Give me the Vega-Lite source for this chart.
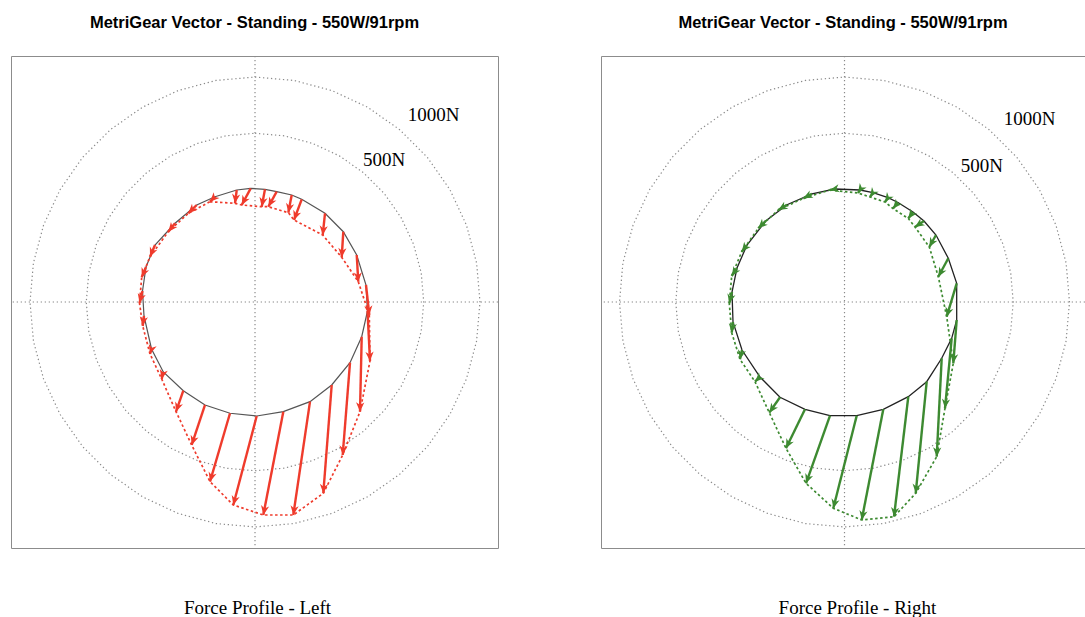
{
  "$schema": "https://vega.github.io/schema/vega-lite/v6.json",
  "padding": {"left": 9, "top": 14, "right": 0, "bottom": 0},
  "spacing": 99,
  "config": {
    "view": {"stroke": "#8c8c8c", "strokeWidth": 1},
    "title": {"font": "Liberation Sans", "fontSize": 16.5, "fontWeight": "bold", "color": "#000000", "offset": 24, "anchor": "middle"},
    "axisX": {"domain": false, "ticks": false, "labels": false, "grid": false, "titleFont": "Liberation Serif", "titleFontSize": 19, "titleFontWeight": "normal", "titleColor": "#000000", "titlePadding": 50}
  },
  "datasets": {
    "rings": [
      {"r": 1500, "i": 0, "x": 0, "y": 1500}, {"r": 1500, "i": 1, "x": 260.5, "y": 1477.2}, {"r": 1500, "i": 2, "x": 513, "y": 1409.5}, {"r": 1500, "i": 3, "x": 750, "y": 1299},
      {"r": 1500, "i": 4, "x": 964.2, "y": 1149.1}, {"r": 1500, "i": 5, "x": 1149.1, "y": 964.2}, {"r": 1500, "i": 6, "x": 1299, "y": 750}, {"r": 1500, "i": 7, "x": 1409.5, "y": 513},
      {"r": 1500, "i": 8, "x": 1477.2, "y": 260.5}, {"r": 1500, "i": 9, "x": 1500, "y": 0}, {"r": 1500, "i": 10, "x": 1477.2, "y": -260.5}, {"r": 1500, "i": 11, "x": 1409.5, "y": -513},
      {"r": 1500, "i": 12, "x": 1299, "y": -750}, {"r": 1500, "i": 13, "x": 1149.1, "y": -964.2}, {"r": 1500, "i": 14, "x": 964.2, "y": -1149.1}, {"r": 1500, "i": 15, "x": 750, "y": -1299},
      {"r": 1500, "i": 16, "x": 513, "y": -1409.5}, {"r": 1500, "i": 17, "x": 260.5, "y": -1477.2}, {"r": 1500, "i": 18, "x": 0, "y": -1500}, {"r": 1500, "i": 19, "x": -260.5, "y": -1477.2},
      {"r": 1500, "i": 20, "x": -513, "y": -1409.5}, {"r": 1500, "i": 21, "x": -750, "y": -1299}, {"r": 1500, "i": 22, "x": -964.2, "y": -1149.1}, {"r": 1500, "i": 23, "x": -1149.1, "y": -964.2},
      {"r": 1500, "i": 24, "x": -1299, "y": -750}, {"r": 1500, "i": 25, "x": -1409.5, "y": -513}, {"r": 1500, "i": 26, "x": -1477.2, "y": -260.5}, {"r": 1500, "i": 27, "x": -1500, "y": 0},
      {"r": 1500, "i": 28, "x": -1477.2, "y": 260.5}, {"r": 1500, "i": 29, "x": -1409.5, "y": 513}, {"r": 1500, "i": 30, "x": -1299, "y": 750}, {"r": 1500, "i": 31, "x": -1149.1, "y": 964.2},
      {"r": 1500, "i": 32, "x": -964.2, "y": 1149.1}, {"r": 1500, "i": 33, "x": -750, "y": 1299}, {"r": 1500, "i": 34, "x": -513, "y": 1409.5}, {"r": 1500, "i": 35, "x": -260.5, "y": 1477.2},
      {"r": 2000, "i": 0, "x": 0, "y": 2000}, {"r": 2000, "i": 1, "x": 347.3, "y": 1969.6}, {"r": 2000, "i": 2, "x": 684, "y": 1879.4}, {"r": 2000, "i": 3, "x": 1000, "y": 1732.1},
      {"r": 2000, "i": 4, "x": 1285.6, "y": 1532.1}, {"r": 2000, "i": 5, "x": 1532.1, "y": 1285.6}, {"r": 2000, "i": 6, "x": 1732.1, "y": 1000}, {"r": 2000, "i": 7, "x": 1879.4, "y": 684},
      {"r": 2000, "i": 8, "x": 1969.6, "y": 347.3}, {"r": 2000, "i": 9, "x": 2000, "y": 0}, {"r": 2000, "i": 10, "x": 1969.6, "y": -347.3}, {"r": 2000, "i": 11, "x": 1879.4, "y": -684},
      {"r": 2000, "i": 12, "x": 1732.1, "y": -1000}, {"r": 2000, "i": 13, "x": 1532.1, "y": -1285.6}, {"r": 2000, "i": 14, "x": 1285.6, "y": -1532.1}, {"r": 2000, "i": 15, "x": 1000, "y": -1732.1},
      {"r": 2000, "i": 16, "x": 684, "y": -1879.4}, {"r": 2000, "i": 17, "x": 347.3, "y": -1969.6}, {"r": 2000, "i": 18, "x": 0, "y": -2000}, {"r": 2000, "i": 19, "x": -347.3, "y": -1969.6},
      {"r": 2000, "i": 20, "x": -684, "y": -1879.4}, {"r": 2000, "i": 21, "x": -1000, "y": -1732.1}, {"r": 2000, "i": 22, "x": -1285.6, "y": -1532.1}, {"r": 2000, "i": 23, "x": -1532.1, "y": -1285.6},
      {"r": 2000, "i": 24, "x": -1732.1, "y": -1000}, {"r": 2000, "i": 25, "x": -1879.4, "y": -684}, {"r": 2000, "i": 26, "x": -1969.6, "y": -347.3}, {"r": 2000, "i": 27, "x": -2000, "y": 0},
      {"r": 2000, "i": 28, "x": -1969.6, "y": 347.3}, {"r": 2000, "i": 29, "x": -1879.4, "y": 684}, {"r": 2000, "i": 30, "x": -1732.1, "y": 1000}, {"r": 2000, "i": 31, "x": -1532.1, "y": 1285.6},
      {"r": 2000, "i": 32, "x": -1285.6, "y": 1532.1}, {"r": 2000, "i": 33, "x": -1000, "y": 1732.1}, {"r": 2000, "i": 34, "x": -684, "y": 1879.4}, {"r": 2000, "i": 35, "x": -347.3, "y": 1969.6}
    ],
    "left": [
      {"i": 1, "sx": -355.6, "sy": 936.0, "tx": -400.0, "ty": 891.6, "dir": 225},
      {"i": 2, "sx": -162.7, "sy": 995.6, "tx": -177.8, "ty": 877.3, "dir": 187},
      {"i": 3, "sx": -38.2, "sy": 1010.7, "tx": -118.2, "ty": 862.2, "dir": 208},
      {"i": 4, "sx": 88.9, "sy": 1001.8, "tx": 59.6, "ty": 847.1, "dir": 191},
      {"i": 5, "sx": 192.9, "sy": 980.5, "tx": 118.2, "ty": 847.1, "dir": 209},
      {"i": 6, "sx": 326.2, "sy": 951.1, "tx": 296.0, "ty": 793.8, "dir": 191},
      {"i": 7, "sx": 415.1, "sy": 912.9, "tx": 346.7, "ty": 728.9, "dir": 200},
      {"i": 8, "sx": 622.2, "sy": 788.5, "tx": 601.8, "ty": 595.6, "dir": 186},
      {"i": 9, "sx": 784.9, "sy": 624.9, "tx": 770.7, "ty": 397.3, "dir": 184},
      {"i": 10, "sx": 904.0, "sy": 417.8, "tx": 918.2, "ty": 180.4, "dir": 177},
      {"i": 11, "sx": 986.7, "sy": 151.1, "tx": 1016.0, "ty": -115.6, "dir": 174},
      {"i": 12, "sx": 1000.0, "sy": -80.0, "tx": 1022.2, "ty": -524.5, "dir": 177},
      {"i": 13, "sx": 948.5, "sy": -308.4, "tx": 933.3, "ty": -975.1, "dir": 181},
      {"i": 14, "sx": 844.5, "sy": -539.6, "tx": 779.6, "ty": -1360.0, "dir": 185},
      {"i": 15, "sx": 681.8, "sy": -737.8, "tx": 607.1, "ty": -1700.5, "dir": 184},
      {"i": 16, "sx": 488.9, "sy": -886.2, "tx": 340.4, "ty": -1893.4, "dir": 188},
      {"i": 17, "sx": 251.6, "sy": -975.1, "tx": 73.8, "ty": -1893.4, "dir": 191},
      {"i": 18, "sx": 15.1, "sy": -1013.3, "tx": -192.9, "ty": -1804.5, "dir": 195},
      {"i": 19, "sx": -222.2, "sy": -989.3, "tx": -400.0, "ty": -1597.4, "dir": 196},
      {"i": 20, "sx": -444.5, "sy": -915.6, "tx": -562.7, "ty": -1271.1, "dir": 198},
      {"i": 21, "sx": -637.3, "sy": -788.5, "tx": -702.2, "ty": -975.1, "dir": 199},
      {"i": 22, "sx": -815.1, "sy": -622.2, "tx": -829.3, "ty": -684.5, "dir": 193},
      {"i": 23, "sx": -920.0, "sy": -417.8, "tx": -933.3, "ty": -462.2, "dir": 197},
      {"i": 24, "sx": -986.7, "sy": -124.4, "tx": -998.2, "ty": -213.3, "dir": 187},
      {"i": 25, "sx": -1000.0, "sy": 97.8, "tx": -1026.7, "ty": -8.9, "dir": 194},
      {"i": 26, "sx": -968.9, "sy": 311.1, "tx": -1007.1, "ty": 219.6, "dir": 203},
      {"i": 27, "sx": -888.9, "sy": 506.7, "tx": -933.3, "ty": 402.7, "dir": 203},
      {"i": 28, "sx": -711.1, "sy": 699.6, "tx": -770.7, "ty": 624.9, "dir": 219},
      {"i": 29, "sx": -518.2, "sy": 862.2, "tx": -592.9, "ty": 788.5, "dir": 225}
    ],
    "right": [
      {"i": 1, "sx": -84.4, "sy": 1004.5, "tx": -128.9, "ty": 995.6, "dir": 259},
      {"i": 2, "sx": 137.8, "sy": 995.6, "tx": 120.0, "ty": 968.9, "dir": 214},
      {"i": 3, "sx": 253.3, "sy": 971.6, "tx": 226.7, "ty": 933.3, "dir": 215},
      {"i": 4, "sx": 386.7, "sy": 927.1, "tx": 360.0, "ty": 888.9, "dir": 215},
      {"i": 5, "sx": 475.6, "sy": 884.5, "tx": 431.1, "ty": 831.1, "dir": 220},
      {"i": 6, "sx": 608.9, "sy": 800.0, "tx": 567.1, "ty": 742.2, "dir": 216},
      {"i": 7, "sx": 706.7, "sy": 720.0, "tx": 626.7, "ty": 666.7, "dir": 236},
      {"i": 8, "sx": 813.3, "sy": 595.6, "tx": 753.8, "ty": 488.9, "dir": 209},
      {"i": 9, "sx": 922.7, "sy": 388.5, "tx": 833.8, "ty": 224.9, "dir": 209},
      {"i": 10, "sx": 997.3, "sy": 166.2, "tx": 908.5, "ty": -130.7, "dir": 197},
      {"i": 11, "sx": 997.3, "sy": -160.0, "tx": 967.1, "ty": -544.9, "dir": 185},
      {"i": 12, "sx": 952.9, "sy": -322.7, "tx": 893.3, "ty": -944.9, "dir": 186},
      {"i": 13, "sx": 864.0, "sy": -500.5, "tx": 819.6, "ty": -1375.1, "dir": 183},
      {"i": 14, "sx": 730.7, "sy": -708.5, "tx": 632.9, "ty": -1700.5, "dir": 186},
      {"i": 15, "sx": 567.1, "sy": -841.8, "tx": 440.0, "ty": -1908.5, "dir": 187},
      {"i": 16, "sx": 344.9, "sy": -953.8, "tx": 152.9, "ty": -1937.8, "dir": 191},
      {"i": 17, "sx": 108.4, "sy": -1010.7, "tx": -99.6, "ty": -1833.8, "dir": 194},
      {"i": 18, "sx": -128.9, "sy": -1010.7, "tx": -342.2, "ty": -1611.6, "dir": 200},
      {"i": 19, "sx": -351.1, "sy": -953.8, "tx": -520.0, "ty": -1300.5, "dir": 206},
      {"i": 20, "sx": -573.3, "sy": -847.1, "tx": -668.5, "ty": -984.0, "dir": 215},
      {"i": 21, "sx": -751.1, "sy": -666.7, "tx": -795.6, "ty": -708.5, "dir": 227},
      {"i": 22, "sx": -911.1, "sy": -426.7, "tx": -928.9, "ty": -509.3, "dir": 192},
      {"i": 23, "sx": -991.1, "sy": -177.8, "tx": -1002.7, "ty": -272.9, "dir": 187},
      {"i": 24, "sx": -1000.0, "sy": 88.9, "tx": -1024.0, "ty": -11.6, "dir": 193},
      {"i": 25, "sx": -955.6, "sy": 302.2, "tx": -1002.7, "ty": 231.1, "dir": 214},
      {"i": 26, "sx": -866.7, "sy": 506.7, "tx": -913.8, "ty": 447.1, "dir": 218},
      {"i": 27, "sx": -697.8, "sy": 722.7, "tx": -766.2, "ty": 655.1, "dir": 225},
      {"i": 28, "sx": -511.1, "sy": 864.9, "tx": -588.5, "ty": 817.8, "dir": 239},
      {"i": 29, "sx": -288.9, "sy": 961.8, "tx": -366.2, "ty": 921.8, "dir": 243}
    ],
    "labelsL": [
      {"label": "1000N", "x": 1587, "y": 1662},
      {"label": "500N", "x": 1147, "y": 1262}
    ],
    "labelsR": [
      {"label": "1000N", "x": 1645, "y": 1627},
      {"label": "500N", "x": 1222, "y": 1209}
    ]
  },
  "hconcat": [
    {
      "width": 487,
      "height": 492,
      "title": {"text": "MetriGear Vector - Standing - 550W/91rpm"},
      "layer": [
        {
          "data": {"name": "rings"},
          "mark": {"type": "line", "interpolate": "linear-closed", "color": "#8a8a8a", "strokeWidth": 1.2, "strokeDash": [1.3, 2.7]},
          "encoding": {
            "x": {"field": "x", "type": "quantitative", "scale": {"domain": [-2169, 2160], "nice": false, "zero": false}, "title": "Force Profile - Left", "axis": {"titleX": 246}},
            "y": {"field": "y", "type": "quantitative", "scale": {"domain": [-2187, 2187], "nice": false, "zero": false}, "axis": null},
            "detail": {"field": "r", "type": "nominal"},
            "order": {"field": "i", "type": "quantitative"}
          }
        },
        {
          "data": {"values": [{}]},
          "mark": {"type": "rule", "color": "#8a8a8a", "strokeWidth": 1.2, "strokeDash": [1.3, 2.7]},
          "encoding": {"x": {"datum": 0, "type": "quantitative", "scale": {"domain": [-2169, 2160], "nice": false, "zero": false}}}
        },
        {
          "data": {"values": [{}]},
          "mark": {"type": "rule", "color": "#8a8a8a", "strokeWidth": 1.2, "strokeDash": [1.3, 2.7]},
          "encoding": {"y": {"datum": 0, "type": "quantitative", "scale": {"domain": [-2187, 2187], "nice": false, "zero": false}, "axis": null}}
        },
        {
          "data": {"name": "left"},
          "mark": {"type": "line", "interpolate": "linear-closed", "color": "#555555", "strokeWidth": 1.2},
          "encoding": {
            "x": {"field": "sx", "type": "quantitative", "scale": {"domain": [-2169, 2160], "nice": false, "zero": false}, "title": "Force Profile - Left"},
            "y": {"field": "sy", "type": "quantitative", "scale": {"domain": [-2187, 2187], "nice": false, "zero": false}, "axis": null},
            "order": {"field": "i", "type": "quantitative"}
          }
        },
        {
          "data": {"name": "left"},
          "mark": {"type": "line", "interpolate": "linear-closed", "color": "#ef3b2c", "strokeWidth": 1.7, "strokeDash": [2.5, 2.5]},
          "encoding": {
            "x": {"field": "tx", "type": "quantitative", "scale": {"domain": [-2169, 2160], "nice": false, "zero": false}, "title": "Force Profile - Left"},
            "y": {"field": "ty", "type": "quantitative", "scale": {"domain": [-2187, 2187], "nice": false, "zero": false}, "axis": null},
            "order": {"field": "i", "type": "quantitative"}
          }
        },
        {
          "data": {"name": "left"},
          "mark": {"type": "rule", "color": "#ef3b2c", "strokeWidth": 2.4},
          "encoding": {
            "x": {"field": "sx", "type": "quantitative", "scale": {"domain": [-2169, 2160], "nice": false, "zero": false}, "title": "Force Profile - Left"},
            "y": {"field": "sy", "type": "quantitative", "scale": {"domain": [-2187, 2187], "nice": false, "zero": false}, "axis": null},
            "x2": {"field": "tx"},
            "y2": {"field": "ty"}
          }
        },
        {
          "data": {"name": "left"},
          "mark": {"type": "point", "shape": "M0,0L0.75,1.7L0,1.2L-0.75,1.7Z", "filled": true, "color": "#ef3b2c", "opacity": 1, "size": 120},
          "encoding": {
            "x": {"field": "tx", "type": "quantitative", "scale": {"domain": [-2169, 2160], "nice": false, "zero": false}, "title": "Force Profile - Left"},
            "y": {"field": "ty", "type": "quantitative", "scale": {"domain": [-2187, 2187], "nice": false, "zero": false}, "axis": null},
            "angle": {"field": "dir", "type": "quantitative", "scale": null}
          }
        },
        {
          "data": {"name": "labelsL"},
          "mark": {"type": "text", "font": "Liberation Serif", "fontSize": 19, "color": "#000000"},
          "encoding": {
            "x": {"field": "x", "type": "quantitative", "scale": {"domain": [-2169, 2160], "nice": false, "zero": false}, "title": "Force Profile - Left"},
            "y": {"field": "y", "type": "quantitative", "scale": {"domain": [-2187, 2187], "nice": false, "zero": false}, "axis": null},
            "text": {"field": "label"}
          }
        }
      ]
    },
    {
      "width": 484,
      "height": 492,
      "title": {"text": "MetriGear Vector - Standing - 550W/91rpm"},
      "layer": [
        {
          "data": {"name": "rings"},
          "mark": {"type": "line", "interpolate": "linear-closed", "color": "#8a8a8a", "strokeWidth": 1.2, "strokeDash": [1.3, 2.7]},
          "encoding": {
            "x": {"field": "x", "type": "quantitative", "scale": {"domain": [-2164.5, 2137.8], "nice": false, "zero": false}, "title": "Force Profile - Right", "axis": {"titleX": 256}},
            "y": {"field": "y", "type": "quantitative", "scale": {"domain": [-2187, 2187], "nice": false, "zero": false}, "axis": null},
            "detail": {"field": "r", "type": "nominal"},
            "order": {"field": "i", "type": "quantitative"}
          }
        },
        {
          "data": {"values": [{}]},
          "mark": {"type": "rule", "color": "#8a8a8a", "strokeWidth": 1.2, "strokeDash": [1.3, 2.7]},
          "encoding": {"x": {"datum": 0, "type": "quantitative", "scale": {"domain": [-2164.5, 2137.8], "nice": false, "zero": false}}}
        },
        {
          "data": {"values": [{}]},
          "mark": {"type": "rule", "color": "#8a8a8a", "strokeWidth": 1.2, "strokeDash": [1.3, 2.7]},
          "encoding": {"y": {"datum": 0, "type": "quantitative", "scale": {"domain": [-2187, 2187], "nice": false, "zero": false}, "axis": null}}
        },
        {
          "data": {"name": "right"},
          "mark": {"type": "line", "interpolate": "linear-closed", "color": "#222222", "strokeWidth": 1.3},
          "encoding": {
            "x": {"field": "sx", "type": "quantitative", "scale": {"domain": [-2164.5, 2137.8], "nice": false, "zero": false}, "title": "Force Profile - Right"},
            "y": {"field": "sy", "type": "quantitative", "scale": {"domain": [-2187, 2187], "nice": false, "zero": false}, "axis": null},
            "order": {"field": "i", "type": "quantitative"}
          }
        },
        {
          "data": {"name": "right"},
          "mark": {"type": "line", "interpolate": "linear-closed", "color": "#3d8a31", "strokeWidth": 1.7, "strokeDash": [2.5, 2.5]},
          "encoding": {
            "x": {"field": "tx", "type": "quantitative", "scale": {"domain": [-2164.5, 2137.8], "nice": false, "zero": false}, "title": "Force Profile - Right"},
            "y": {"field": "ty", "type": "quantitative", "scale": {"domain": [-2187, 2187], "nice": false, "zero": false}, "axis": null},
            "order": {"field": "i", "type": "quantitative"}
          }
        },
        {
          "data": {"name": "right"},
          "mark": {"type": "rule", "color": "#3d8a31", "strokeWidth": 2.4},
          "encoding": {
            "x": {"field": "sx", "type": "quantitative", "scale": {"domain": [-2164.5, 2137.8], "nice": false, "zero": false}, "title": "Force Profile - Right"},
            "y": {"field": "sy", "type": "quantitative", "scale": {"domain": [-2187, 2187], "nice": false, "zero": false}, "axis": null},
            "x2": {"field": "tx"},
            "y2": {"field": "ty"}
          }
        },
        {
          "data": {"name": "right"},
          "mark": {"type": "point", "shape": "M0,0L0.75,1.7L0,1.2L-0.75,1.7Z", "filled": true, "color": "#3d8a31", "opacity": 1, "size": 120},
          "encoding": {
            "x": {"field": "tx", "type": "quantitative", "scale": {"domain": [-2164.5, 2137.8], "nice": false, "zero": false}, "title": "Force Profile - Right"},
            "y": {"field": "ty", "type": "quantitative", "scale": {"domain": [-2187, 2187], "nice": false, "zero": false}, "axis": null},
            "angle": {"field": "dir", "type": "quantitative", "scale": null}
          }
        },
        {
          "data": {"name": "labelsR"},
          "mark": {"type": "text", "font": "Liberation Serif", "fontSize": 19, "color": "#000000"},
          "encoding": {
            "x": {"field": "x", "type": "quantitative", "scale": {"domain": [-2164.5, 2137.8], "nice": false, "zero": false}, "title": "Force Profile - Right"},
            "y": {"field": "y", "type": "quantitative", "scale": {"domain": [-2187, 2187], "nice": false, "zero": false}, "axis": null},
            "text": {"field": "label"}
          }
        }
      ]
    }
  ]
}
